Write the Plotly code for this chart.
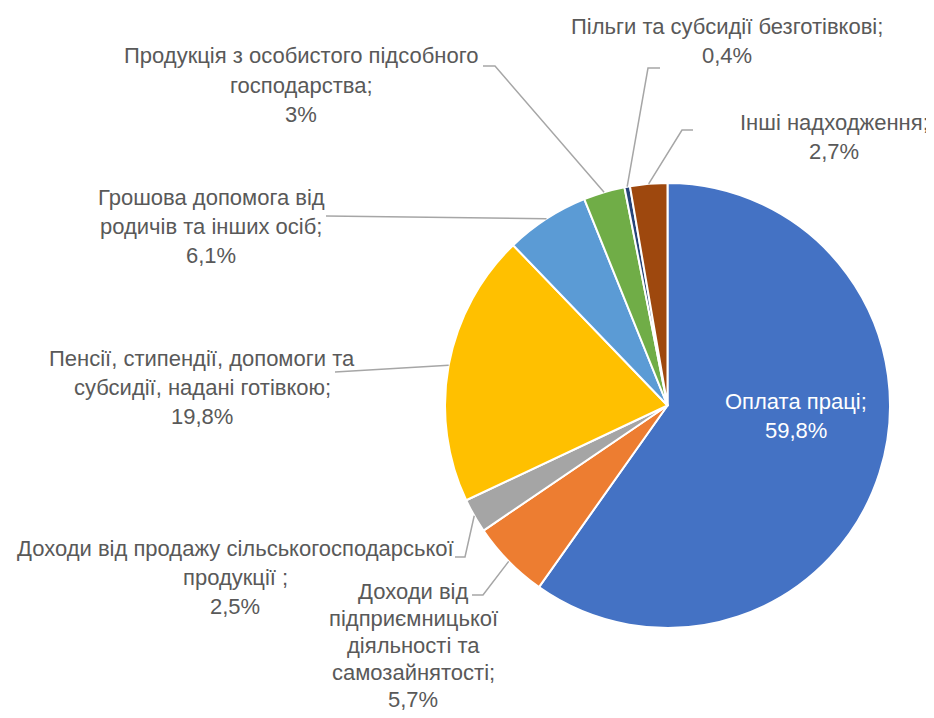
import math
import plotly.graph_objects as go

# ---- data ----
categories = [
    "Оплата праці",
    "Доходи від підприємницької діяльності та самозайнятості",
    "Доходи від продажу сільськогосподарської продукції",
    "Пенсії, стипендії, допомоги та субсидії, надані готівкою",
    "Грошова допомога від родичів та інших осіб",
    "Продукція з особистого підсобного господарства",
    "Пільги та субсидії безготівкові",
    "Інші надходження",
]
values = [59.8, 5.7, 2.5, 19.8, 6.1, 3.0, 0.4, 2.7]
value_labels = ["59,8%", "5,7%", "2,5%", "19,8%", "6,1%", "3%", "0,4%", "2,7%"]
label_lines = [
    ["Оплата праці;"],
    ["Доходи від", "підприємницької", "діяльності та", "самозайнятості;"],
    ["Доходи від продажу сільськогосподарської", "продукції ;"],
    ["Пенсії, стипендії, допомоги та", "субсидії, надані готівкою;"],
    ["Грошова допомога від", "родичів та інших осіб;"],
    ["Продукція з особистого підсобного", "господарства;"],
    ["Пільги та субсидії безготівкові;"],
    ["Інші надходження;"],
]
colors = ["#4472C4", "#ED7D31", "#A5A5A5", "#FFC000", "#5B9BD5",
          "#70AD47", "#264478", "#9E480E"]

# ---- layout constants (pixels, screen coordinates) ----
W, H = 934, 718
OFF = 8  # page body margin
CX, CY, R = 667.5, 405.5, 222.5
FONT = "Liberation Sans Narrow, Liberation Sans, Arial, sans-serif"
FS = 22

# label block centres in pixels and line spacing per block
label_pos = [
    (796, 416, 29),
    (413, 645, 27),
    (235, 577, 29),
    (202, 387, 29),
    (211, 226, 29),
    (301, 85, 29),
    (727, 41, 29),
    (834, 137, 29),
]
# elbow points for leader lines: (elbow x, elbow y, end x) ; None = no leader
elbows = [
    None,
    (483, 595, 472),
    (465, 557, 455),
    (335, 372, 335),
    (326, 216, 326),
    (495, 66, 483),
    (648, 68, 660),
    (682, 130, 693),
]


def px(x):
    return (x - OFF) / W


def py(y):
    return 1 - (y - OFF) / H


fig = go.Figure(go.Pie(
    labels=categories,
    values=values,
    sort=False,
    direction="clockwise",
    rotation=0,
    marker=dict(colors=colors, line=dict(color="white", width=2)),
    textinfo="none",
    hoverinfo="label+percent",
    domain=dict(x=[px(CX - R), px(CX + R)], y=[py(CY + R), py(CY - R)]),
    showlegend=False,
))

annotations = []
shapes = []
total = sum(values)
cum = 0.0
for i, v in enumerate(values):
    mid = (cum + v / 2) / total
    cum += v
    theta = 2 * math.pi * mid
    ex = CX + R * math.sin(theta)
    ey = CY - R * math.cos(theta)
    lines = label_lines[i] + [value_labels[i]]
    lx, ly, ls = label_pos[i]
    n = len(lines)
    color = "white" if i == 0 else "#595959"
    for k, t in enumerate(lines):
        yk = ly + (k - (n - 1) / 2) * ls
        annotations.append(dict(
            x=px(lx), y=py(yk), xref="paper", yref="paper",
            text=t, showarrow=False, xanchor="center", yanchor="middle",
            font=dict(family=FONT, size=FS, color=color),
        ))
    if elbows[i] is not None:
        bx, by, endx = elbows[i]
        path = f"M {px(ex)},{py(ey)} L {px(bx)},{py(by)} L {px(endx)},{py(by)}"
        shapes.append(dict(type="path", xref="paper", yref="paper", path=path,
                           line=dict(color="#A6A6A6", width=1.5)))

fig.update_layout(
    width=W, height=H,
    margin=dict(l=0, r=0, t=0, b=0),
    paper_bgcolor="white",
    plot_bgcolor="white",
    annotations=annotations,
    shapes=shapes,
)

fig.write_html("out.html")
